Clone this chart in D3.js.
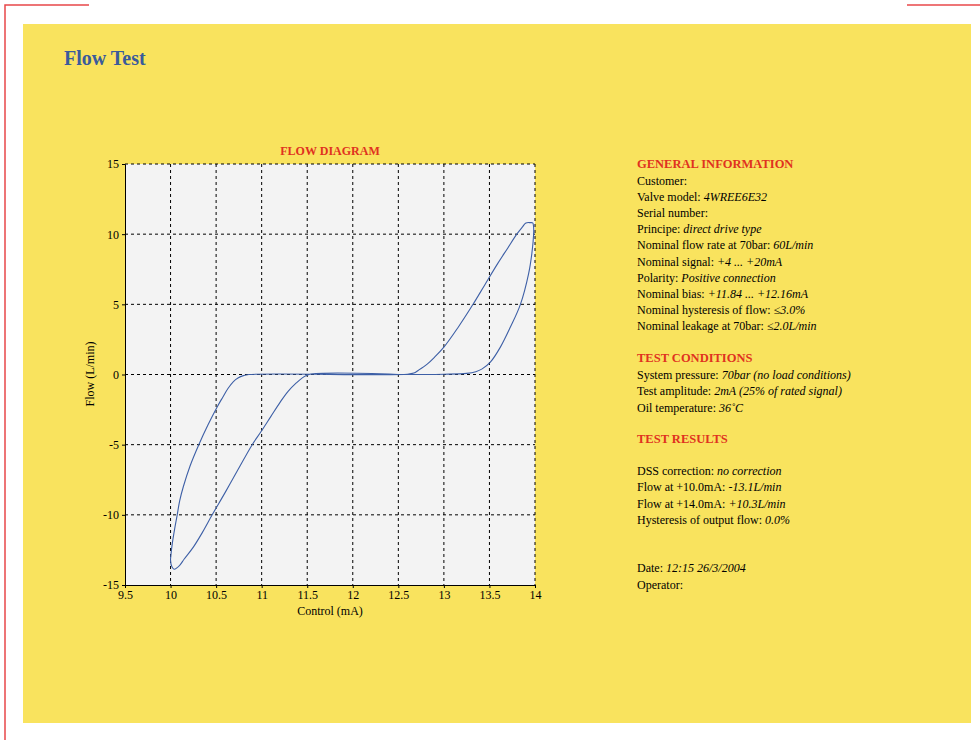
<!DOCTYPE html>
<html>
<head>
<meta charset="utf-8">
<script src="https://cdn.jsdelivr.net/npm/d3@7"></script>
<style>
  body { margin: 0; background: #ffffff; }
  svg text { font-family: "Liberation Serif", "DejaVu Serif", serif; }
</style>
</head>
<body>
<div class="container"></div>
<script>
// datos
const xTicks = [9.5, 10, 10.5, 11, 11.5, 12, 12.5, 13, 13.5, 14]
const yTicks = [-15, -10, -5, 0, 5, 10, 15]

// control (mA) y flow (L/min) del lazo, en orden de barrido
const control = [12.25, 13.0, 13.25, 13.35, 13.42, 13.51, 13.62, 13.73, 13.84, 13.93, 13.965, 13.985, 13.985, 13.975, 13.95,
                 13.9, 13.86, 13.8, 13.7, 13.59, 13.45, 13.32, 13.15, 13.0, 12.9, 12.82, 12.72, 12.67, 12.6,
                 10.86, 10.8, 10.74, 10.69, 10.63, 10.57, 10.51, 10.41, 10.31, 10.215, 10.14, 10.1, 10.073, 10.045, 10.02, 10.005, 10.0, 10.015, 10.04,
                 10.1, 10.15, 10.25, 10.35, 10.457, 10.6, 10.73, 10.896, 10.99, 11.1, 11.2, 11.29, 11.38, 11.45, 11.52, 12.5]
const flow = [0, 0.02, 0.08, 0.2, 0.4, 0.88, 1.95, 3.38, 5.0, 7.19, 8.6, 10.0, 10.5, 10.8, 10.82,
              10.8, 10.5, 10.0, 9.0, 7.9, 6.4, 5.0, 3.3, 1.95, 1.25, 0.76, 0.3, 0.1, 0.02,
              0, -0.08, -0.25, -0.5, -1.0, -1.65, -2.33, -3.6, -5.0, -6.5, -8.0, -9.0, -10.0, -11.0, -12.0, -12.8, -13.3, -13.7, -13.88,
              -13.6, -13.15, -12.3, -11.25, -10.0, -8.4, -6.9, -5.0, -4.1, -3.0, -2.0, -1.2, -0.6, -0.22, 0, 0]

const general = [["Customer:", ""], ["Valve model: ", "4WREE6E32"], ["Serial number:", ""],
                 ["Principe: ", "direct drive type"], ["Nominal flow rate at 70bar: ", "60L/min"],
                 ["Nominal signal: ", "+4 ... +20mA"], ["Polarity: ", "Positive connection"],
                 ["Nominal bias: ", "+11.84 ... +12.16mA"], ["Nominal hysteresis of flow:  ", "\u22643.0%"],
                 ["Nominal leakage at 70bar:  ", "\u22642.0L/min"]]
const condiciones = [["System pressure: ", "70bar  (no load conditions)"], ["Test amplitude: ", "2mA (25% of rated signal)"],
                     ["Oil temperature: ", "36\u02daC"]]
const resultados = [["DSS correction: ", "no correction"], ["Flow at +10.0mA: ", "-13.1L/min"],
                    ["Flow at +14.0mA: ", "+10.3L/min"], ["Hysteresis of output flow: ", "0.0%"]]
const fecha = [["Date: ", "12:15 26/3/2004"], ["Operator:", ""]]

// svg
const svg = d3.select(".container")
    .append("svg")
    .attr("width", 980)
    .attr("height", 740)

const rojo = "#e8474a"
svg.append("path").attr("d", "M5,740 V5 H89").attr("fill", "none").attr("stroke", rojo).attr("stroke-width", 1.5)
svg.append("path").attr("d", "M907,5 H980").attr("fill", "none").attr("stroke", rojo).attr("stroke-width", 1.5)

svg.append("rect")
    .attr("x", 23).attr("y", 24)
    .attr("width", 948).attr("height", 699)
    .attr("fill", "#f9e35e")

svg.append("text")
    .attr("x", 64).attr("y", 65)
    .style("font-size", "20px")
    .style("font-weight", "bold")
    .attr("fill", "#3a5b9b")
    .text("Flow Test")

// grafico
const margin = {left: 125, top: 164}
const W = 410, H = 421
const x = d3.scaleLinear().domain([9.5, 14]).range([0, W])
const y = d3.scaleLinear().domain([-15, 15]).range([H, 0])

const g = svg.append("g").attr("transform", `translate(${margin.left} ${margin.top})`)

g.append("rect").attr("width", W).attr("height", H).attr("fill", "#f3f3f3")

g.selectAll(".vgrid")
    .data(xTicks.slice(1))
    .join("line")
    .attr("class", "vgrid")
    .attr("x1", d => x(d)).attr("x2", d => x(d))
    .attr("y1", 0).attr("y2", H)
    .attr("stroke", "#000").attr("stroke-dasharray", "3,3")

g.selectAll(".hgrid")
    .data(yTicks.slice(1))
    .join("line")
    .attr("class", "hgrid")
    .attr("x1", 0).attr("x2", W)
    .attr("y1", d => y(d)).attr("y2", d => y(d))
    .attr("stroke", "#000").attr("stroke-dasharray", "3,3")

const xAxis = g.append("g")
    .attr("transform", `translate(0 ${H})`)
    .call(d3.axisBottom(x).tickValues(xTicks).tickSize(3).tickPadding(4).tickFormat(d => String(d)))
const yAxis = g.append("g")
    .call(d3.axisLeft(y).tickValues(yTicks).tickSize(3).tickPadding(3).tickFormat(d => String(d)))

for (const ax of [xAxis, yAxis]) {
    ax.select(".domain").attr("stroke", "#000")
    ax.selectAll(".tick line").attr("stroke", "#000")
    ax.selectAll("text")
        .style("font-family", "'Liberation Serif', serif")
        .style("font-size", "12px")
        .attr("fill", "#000")
}
xAxis.selectAll("text").attr("dy", "0.55em")
yAxis.selectAll("text").attr("dy", "0.32em")

const puntos = control.map((c, i) => [c, flow[i]])
const linea = d3.line()
    .x(d => x(d[0]))
    .y(d => y(d[1]))
    .curve(d3.curveCatmullRom.alpha(0.5))

g.append("path")
    .datum(puntos)
    .attr("d", linea)
    .attr("fill", "none")
    .attr("stroke", "#3d5fa6")
    .attr("stroke-width", 1.1)

svg.append("text")
    .attr("x", 330).attr("y", 155)
    .attr("text-anchor", "middle")
    .style("font-size", "12px")
    .style("font-weight", "bold")
    .attr("fill", "#e0321f")
    .text("FLOW DIAGRAM")

svg.append("text")
    .attr("x", 330).attr("y", 615)
    .attr("text-anchor", "middle")
    .style("font-size", "12px")
    .text("Control (mA)")

svg.append("text")
    .attr("transform", "translate(94 374) rotate(-90)")
    .attr("text-anchor", "middle")
    .style("font-size", "12px")
    .text("Flow (L/min)")

// informacion
const titulo = (txt, yy) => {
    svg.append("text")
        .attr("x", 637).attr("y", yy)
        .style("font-size", "12.5px")
        .style("font-weight", "bold")
        .attr("fill", "#e0321f")
        .text(txt)
}
const bloque = (lineas, y0, paso) => {
    const t = svg.selectAll(null)
        .data(lineas)
        .join("text")
        .attr("x", 637)
        .attr("y", (_, i) => y0 + i * paso)
        .style("font-size", "12px")
        .attr("fill", "#000")
    t.append("tspan").text(d => d[0])
    t.append("tspan").style("font-style", "italic").text(d => d[1])
}

titulo("GENERAL INFORMATION", 168)
bloque(general, 185, 16.1)
titulo("TEST CONDITIONS", 362)
bloque(condiciones, 379, 16.3)
titulo("TEST RESULTS", 443)
bloque(resultados, 475, 16.4)
bloque(fecha, 572, 17)
</script>
</body>
</html>
